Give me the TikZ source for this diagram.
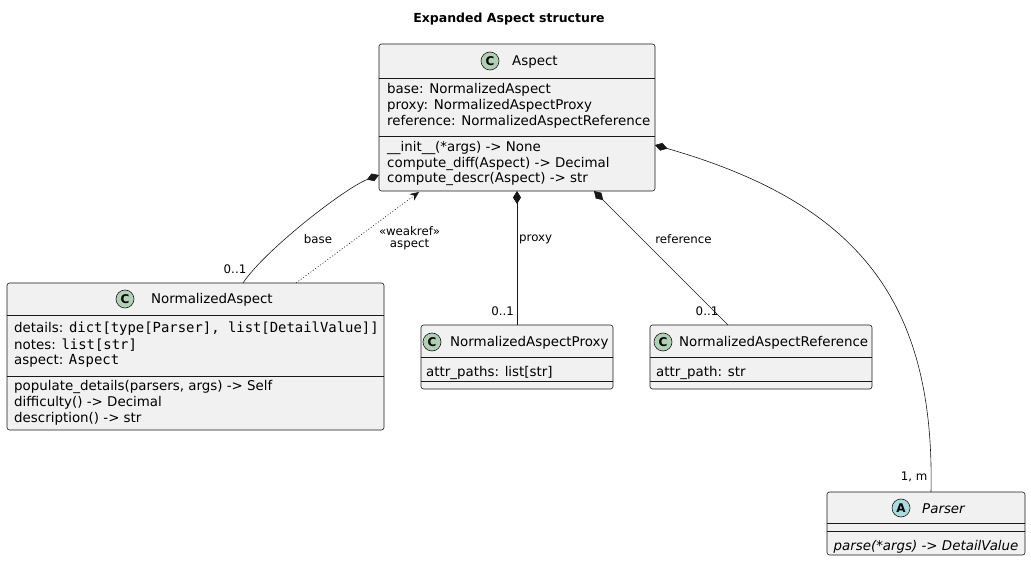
\documentclass[tikz,border=0pt]{standalone}
\usepackage{fontspec}
\setmainfont{DejaVu Sans}
\setmonofont{DejaVu Sans Mono}
\usetikzlibrary{arrows.meta,calc}
\definecolor{boxfill}{HTML}{F1F1F1}
\definecolor{boxline}{HTML}{181818}
\definecolor{cfill}{HTML}{ADD1B2}
\definecolor{afill}{HTML}{A9DCDF}
\newcommand\mymono[1]{{\fontsize{13.9}{16}\selectfont\ttfamily #1}}
\tikzset{
 classbox/.style={draw=boxline, fill=boxfill, rounded corners=2.5pt, line width=0.6pt, inner sep=0, outer sep=0, anchor=north west},
 member/.style={anchor=base west, inner sep=0, font=\fontsize{13.4}{16}\selectfont},
 badge/.style={circle, draw=boxline, line width=0.6pt, minimum size=18pt, inner sep=0, font=\bfseries\fontsize{12}{12}\selectfont},
 sepline/.style={draw=boxline, line width=0.6pt},
 comp/.style={draw=boxline, line width=0.6pt, {Diamond[length=13pt,width=8pt]}-},
 dep/.style={draw=boxline, line width=0.6pt, dash pattern=on 1pt off 2pt, -{Stealth[length=9pt,width=8pt,inset=3pt]}},
 lbl/.style={inner sep=0, font=\fontsize{11.8}{14}\selectfont},
}
\begin{document}
\begin{tikzpicture}[x=1pt,y=-1pt]
\fill[white] (0,0) rectangle (1031,561);
\useasboundingbox (0,0) rectangle (1031,561);

% title
\node[anchor=base, inner sep=0, font=\bfseries\fontsize{12.5}{14}\selectfont] (title) at (509,22.6) {Expanded Aspect structure};

% Aspect
\node[classbox, minimum width=276pt, minimum height=147pt] (asp) at (379,44) {};
\draw[sepline] (379,78) -- (655,78);
\draw[sepline] (379,136) -- (655,136);
\node[badge, fill=cfill] (aspC) at (490,61) {C};
\node[member] (aspT) at (512,66) {Aspect};
\node[member] (aspA1) at (387,94) {base: NormalizedAspect};
\node[member] (aspA2) at (387,110) {proxy: NormalizedAspectProxy};
\node[member] (aspA3) at (387,126) {reference: NormalizedAspectReference};
\node[member] (aspM1) at (387,152) {\_\_init\_\_(*args) -> None};
\node[member] (aspM2) at (387,168) {compute\_diff(Aspect) -> Decimal};
\node[member] (aspM3) at (387,183) {compute\_descr(Aspect) -> str};

% NormalizedAspect
\node[classbox, minimum width=377pt, minimum height=147pt] (na) at (7,283) {};
\draw[sepline] (7,315) -- (384,315);
\draw[sepline] (7,376) -- (384,376);
\node[badge, fill=cfill] (naC) at (125,299) {C};
\node[member] (naT) at (151,304) {NormalizedAspect};
\node[member] (naA1) at (14,333) {details: \mymono{dict[type[Parser], list[DetailValue]]}};
\node[member] (naA2) at (14,349) {notes: \mymono{list[str]}};
\node[member] (naA3) at (14,365) {aspect: \mymono{Aspect}};
\node[member] (naM1) at (14,390) {populate\_details(parsers, args) -> Self};
\node[member] (naM2) at (14,406) {difficulty() -> Decimal};
\node[member] (naM3) at (14,422) {description() -> str};

% NormalizedAspectProxy
\node[classbox, minimum width=192pt, minimum height=64pt] (prx) at (421,325) {};
\draw[sepline] (421,357) -- (613,357);
\draw[sepline] (421,381) -- (613,381);
\node[badge, fill=cfill] (prxC) at (432,342) {C};
\node[member] (prxT) at (450,347) {NormalizedAspectProxy};
\node[member] (prxA1) at (426,376) {attr\_paths: list[str]};

% NormalizedAspectReference
\node[classbox, minimum width=222pt, minimum height=64pt] (ref) at (650,325) {};
\draw[sepline] (650,357) -- (872,357);
\draw[sepline] (650,381) -- (872,381);
\node[badge, fill=cfill] (refC) at (663,342) {C};
\node[member] (refT) at (679,347) {NormalizedAspectReference};
\node[member] (refA1) at (656,376) {attr\_path: str};

% Parser
\node[classbox, minimum width=198pt, minimum height=63pt] (par) at (827,492) {};
\draw[sepline] (827,523) -- (1025,523);
\draw[sepline] (827,531) -- (1025,531);
\node[badge, fill=afill] (parA) at (901,508) {A};
\node[member] (parT) at (922,513) {\itshape Parser};
\node[member, anchor=base] (parM1) at (926,550) {\itshape parse(*args) -> DetailValue};

% connectors
\draw[comp] ($(asp.north west)+(0,131)$) .. controls (345,188) and (265,250) .. ($(na.north west)+(236,0)$);
\draw[dep] ($(na.north west)+(289,0)$) -- ($(asp.north west)+(40,148)$);
\draw[comp] (asp.south) -- (prx.north);
\draw[comp] ($(asp.north west)+(215,147)$) -- ($(ref.north west)+(78,0)$);
\draw[comp] ($(asp.north west)+(276,101)$) .. controls (857,203) and (935,300) .. ($(par.north west)+(104,0)$);

% labels
\node[lbl] (lbase) at (318,239) {base};
\node[lbl] (lbaseM) at (235,269) {0..1};
\node[lbl, align=center] (lweak) at (409.5,238.5) {«weakref»\\[-2pt]aspect};
\node[lbl, anchor=west] (lprx) at (519,239) {proxy};
\node[lbl, anchor=east] (lprxM) at (514,311) {0..1};
\node[lbl] (lref) at (683.5,239) {reference};
\node[lbl] (lrefM) at (707,311) {0..1};
\node[lbl] (lparM) at (914,477) {1, m};
\end{tikzpicture}
\end{document}
